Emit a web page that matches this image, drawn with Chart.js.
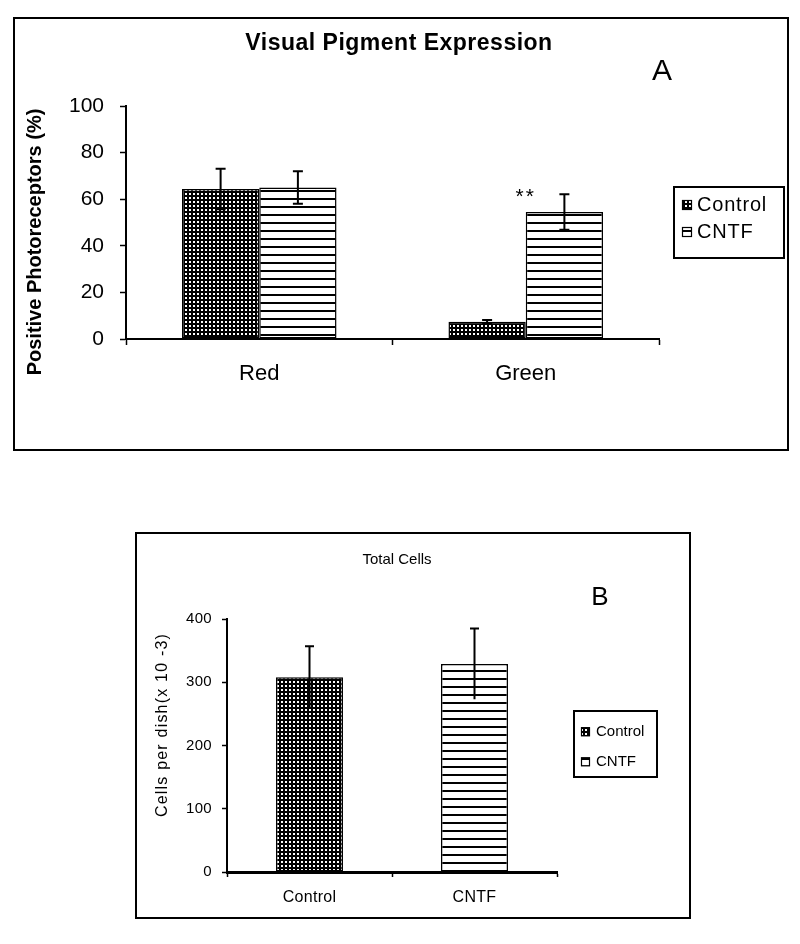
<!DOCTYPE html>
<html>
<head>
<meta charset="utf-8">
<script src="https://cdn.jsdelivr.net/npm/chart.js@4.4.0/dist/chart.umd.min.js"></script>
<style>
html,body{margin:0;padding:0;background:#fff;}
body{width:800px;height:944px;position:relative;overflow:hidden;}
.frame{position:absolute;border:2px solid #000;box-sizing:border-box;}
.wrap{position:absolute;left:0;width:800px;}
</style>
</head>
<body>
<div class="frame" style="left:13px;top:17px;width:776px;height:434px"></div>
<div class="frame" style="left:135px;top:532px;width:556px;height:387px"></div>
<div class="wrap" style="top:0;height:470px"><canvas id="chartA" width="800" height="470"></canvas></div>
<div class="wrap" style="top:480px;height:464px"><canvas id="chartB" width="800" height="464"></canvas></div>
<script>
// ---------- Panel A data ----------
const pigmentCategories = ['Red', 'Green'];
const pigmentControl = [64.4, 7.4];
const pigmentControlErr = [8.7, 0.8];
const pigmentCNTF = [65.0, 54.5];
const pigmentCNTFErr = [7.0, 7.6];
const pigmentTicks = [0, 20, 40, 60, 80, 100];
const pigmentSig = [{ category: 'Green', value: 61, text: '**' }];

// ---------- Panel B data ----------
const cellCategories = ['Control', 'CNTF'];
const cellControl = [308, null];
const cellControlErr = [49, null];
const cellCNTF = [null, 329];
const cellCNTFErr = [null, 56];
const cellTicks = [0, 100, 200, 300, 400];

const FONT = '"Liberation Sans", Arial, Helvetica, sans-serif';
Chart.defaults.font.family = FONT;
Chart.defaults.color = '#000';
Chart.defaults.animation = false;

function dotPattern() {
  const c = document.createElement('canvas'); c.width = 4; c.height = 4;
  const g = c.getContext('2d');
  g.fillStyle = '#000'; g.fillRect(0, 0, 4, 4);
  g.fillStyle = '#fff'; g.fillRect(1, 1, 2, 2);
  return g.createPattern(c, 'repeat');
}
function linePattern() {
  const c = document.createElement('canvas'); c.width = 8; c.height = 8;
  const g = c.getContext('2d');
  g.fillStyle = '#fff'; g.fillRect(0, 0, 8, 8);
  g.fillStyle = '#000'; g.fillRect(0, 6, 8, 2);
  return g.createPattern(c, 'repeat');
}

function drawText(ctx, t) {
  ctx.save();
  ctx.font = t.font; ctx.fillStyle = '#000';
  ctx.letterSpacing = t.ls || '0px';
  ctx.textAlign = t.align || 'center'; ctx.textBaseline = 'middle';
  ctx.translate(t.x, t.y);
  if (t.rot) ctx.rotate(t.rot);
  ctx.fillText(t.text, 0, 0);
  ctx.restore();
}

const decor = {
  id: 'decor',
  beforeDraw(chart, args, o) {
    chart.ctx.letterSpacing = o.tickSpacing || '0px';
  },
  afterDatasetsDraw(chart, args, o) {
    const ctx = chart.ctx, ys = chart.scales.y;
    chart.data.datasets.forEach((ds, di) => {
      const meta = chart.getDatasetMeta(di);
      meta.data.forEach((bar, i) => {
        const v = ds.data[i], e = ds.errors ? ds.errors[i] : null;
        if (v == null || e == null) return;
        const yt = ys.getPixelForValue(v + e), yb = ys.getPixelForValue(v - e);
        ctx.save();
        ctx.strokeStyle = '#000'; ctx.lineWidth = o.errWidth;
        ctx.beginPath();
        ctx.moveTo(bar.x, yt); ctx.lineTo(bar.x, yb);
        ctx.moveTo(bar.x - o.cap / 2, yt); ctx.lineTo(bar.x + o.cap / 2, yt);
        if (o.lowerCap) { ctx.moveTo(bar.x - o.cap / 2, yb); ctx.lineTo(bar.x + o.cap / 2, yb); }
        ctx.stroke();
        ctx.restore();
      });
    });
    (o.sig || []).forEach(s => {
      const x = chart.scales.x.getPixelForValue(chart.data.labels.indexOf(s.category));
      drawText(ctx, { text: s.text, x: x, y: ys.getPixelForValue(s.value), font: o.sigFont, ls: o.sigLs });
    });
  },
  afterDraw(chart, args, o) {
    const ctx = chart.ctx;
    (o.texts || []).forEach(t => drawText(ctx, t));
    const L = o.legend;
    if (L) {
      ctx.save();
      ctx.strokeStyle = '#000'; ctx.lineWidth = L.lw;
      ctx.strokeRect(L.x, L.y, L.w, L.h);
      chart.data.datasets.forEach((ds, i) => {
        const ry = L.rows[i];
        ctx.fillStyle = ds.backgroundColor;
        ctx.fillRect(L.swX, ry - L.sw / 2, L.sw, L.sw);
        ctx.lineWidth = 1.2;
        ctx.strokeRect(L.swX + 0.5, ry - L.sw / 2 + 0.5, L.sw - 1, L.sw - 1);
        drawText(ctx, { text: ds.label, x: L.textX, y: ry, font: L.font, ls: L.ls, align: 'left' });
      });
      ctx.restore();
    }
  }
};

// ---------- Chart A ----------
new Chart(document.getElementById('chartA'), {
  type: 'bar',
  data: {
    labels: pigmentCategories,
    datasets: [
      { label: 'Control', data: pigmentControl, errors: pigmentControlErr, backgroundColor: dotPattern(),
        borderColor: '#000', borderWidth: 1.5, borderSkipped: false, categoryPercentage: 0.58, barPercentage: 1 },
      { label: 'CNTF', data: pigmentCNTF, errors: pigmentCNTFErr, backgroundColor: linePattern(),
        borderColor: '#000', borderWidth: 1.5, borderSkipped: false, categoryPercentage: 0.58, barPercentage: 1 }
    ]
  },
  plugins: [decor],
  options: {
    responsive: false,
    layout: { padding: { left: 56, right: 141, top: 106, bottom: 0 } },
    plugins: {
      legend: { display: false }, title: { display: false }, tooltip: { enabled: false },
      decor: {
        tickSpacing: '0px', errWidth: 2, cap: 10, lowerCap: true,
        sig: pigmentSig, sigFont: '21px ' + FONT, sigLs: '2px',
        texts: [
          { text: 'Visual Pigment Expression', x: 399, y: 44, font: 'bold 23px ' + FONT, ls: '0.5px' },
          { text: 'A', x: 662, y: 72, font: '30px ' + FONT },
          { text: 'Positive Photoreceptors (%)', x: 35, y: 242, font: 'bold 20px ' + FONT, rot: -Math.PI / 2 }
        ],
        legend: { x: 674, y: 187, w: 110, h: 71, lw: 2, rows: [205, 232], swX: 682, sw: 10, textX: 697,
                  font: '20px ' + FONT, ls: '0.8px' }
      }
    },
    scales: {
      x: {
        offset: true,
        grid: { display: true, drawOnChartArea: false, drawTicks: true, offset: true, tickLength: 6, tickColor: '#000', tickWidth: 1.5 },
        border: { display: true, color: '#000', width: 2 },
        ticks: { font: { size: 22 }, color: '#000', padding: 16, maxRotation: 0 },
        afterFit: s => { s.height = 131; }
      },
      y: {
        min: 0, max: 100,
        afterBuildTicks: s => { s.ticks = pigmentTicks.map(v => ({ value: v })); },
        grid: { drawOnChartArea: false, tickLength: 6, tickColor: '#000', tickWidth: 1.5 },
        border: { color: '#000', width: 2 },
        ticks: { font: { size: 21 }, color: '#000', padding: 16 },
        afterFit: s => { s.width = 70; }
      }
    }
  }
});

// ---------- Chart B ----------
new Chart(document.getElementById('chartB'), {
  type: 'bar',
  data: {
    labels: cellCategories,
    datasets: [
      { label: 'Control', data: cellControl, errors: cellControlErr, backgroundColor: dotPattern(),
        borderColor: '#000', borderWidth: 1.5, borderSkipped: false, categoryPercentage: 0.406, barPercentage: 1, skipNull: true },
      { label: 'CNTF', data: cellCNTF, errors: cellCNTFErr, backgroundColor: linePattern(),
        borderColor: '#000', borderWidth: 1.5, borderSkipped: false, categoryPercentage: 0.406, barPercentage: 1, skipNull: true }
    ]
  },
  plugins: [decor],
  options: {
    responsive: false,
    skipNull: true,
    layout: { padding: { left: 167, right: 243, top: 139, bottom: 0 } },
    plugins: {
      legend: { display: false }, title: { display: false }, tooltip: { enabled: false },
      decor: {
        tickSpacing: '0.3px', errWidth: 2, cap: 9, lowerCap: false,
        texts: [
          { text: 'Total Cells', x: 397, y: 80, font: '15px ' + FONT, ls: '0px' },
          { text: 'B', x: 600, y: 118, font: '26px ' + FONT },
          { text: 'Cells per dish(x 10 -3)', x: 163, y: 245, font: '16px ' + FONT, ls: '1.2px', rot: -Math.PI / 2 }
        ],
        legend: { x: 574, y: 231, w: 83, h: 66, lw: 2, rows: [251.7, 281.7], swX: 581, sw: 9, textX: 596,
                  font: '15px ' + FONT, ls: '0px' }
      }
    },
    scales: {
      x: {
        offset: true,
        grid: { display: true, drawOnChartArea: false, drawTicks: true, offset: true, tickLength: 5, tickColor: '#000', tickWidth: 1.5 },
        border: { display: true, color: '#000', width: 3 },
        ticks: { font: { size: 16 }, color: '#000', padding: 11, maxRotation: 0 },
        afterFit: s => { s.height = 72; }
      },
      y: {
        min: 0, max: 400,
        afterBuildTicks: s => { s.ticks = cellTicks.map(v => ({ value: v })); },
        grid: { drawOnChartArea: false, tickLength: 5, tickColor: '#000', tickWidth: 1.5 },
        border: { color: '#000', width: 2 },
        ticks: { font: { size: 15 }, color: '#000', padding: 10 },
        afterFit: s => { s.width = 60; }
      }
    }
  }
});
</script>
</body>
</html>
